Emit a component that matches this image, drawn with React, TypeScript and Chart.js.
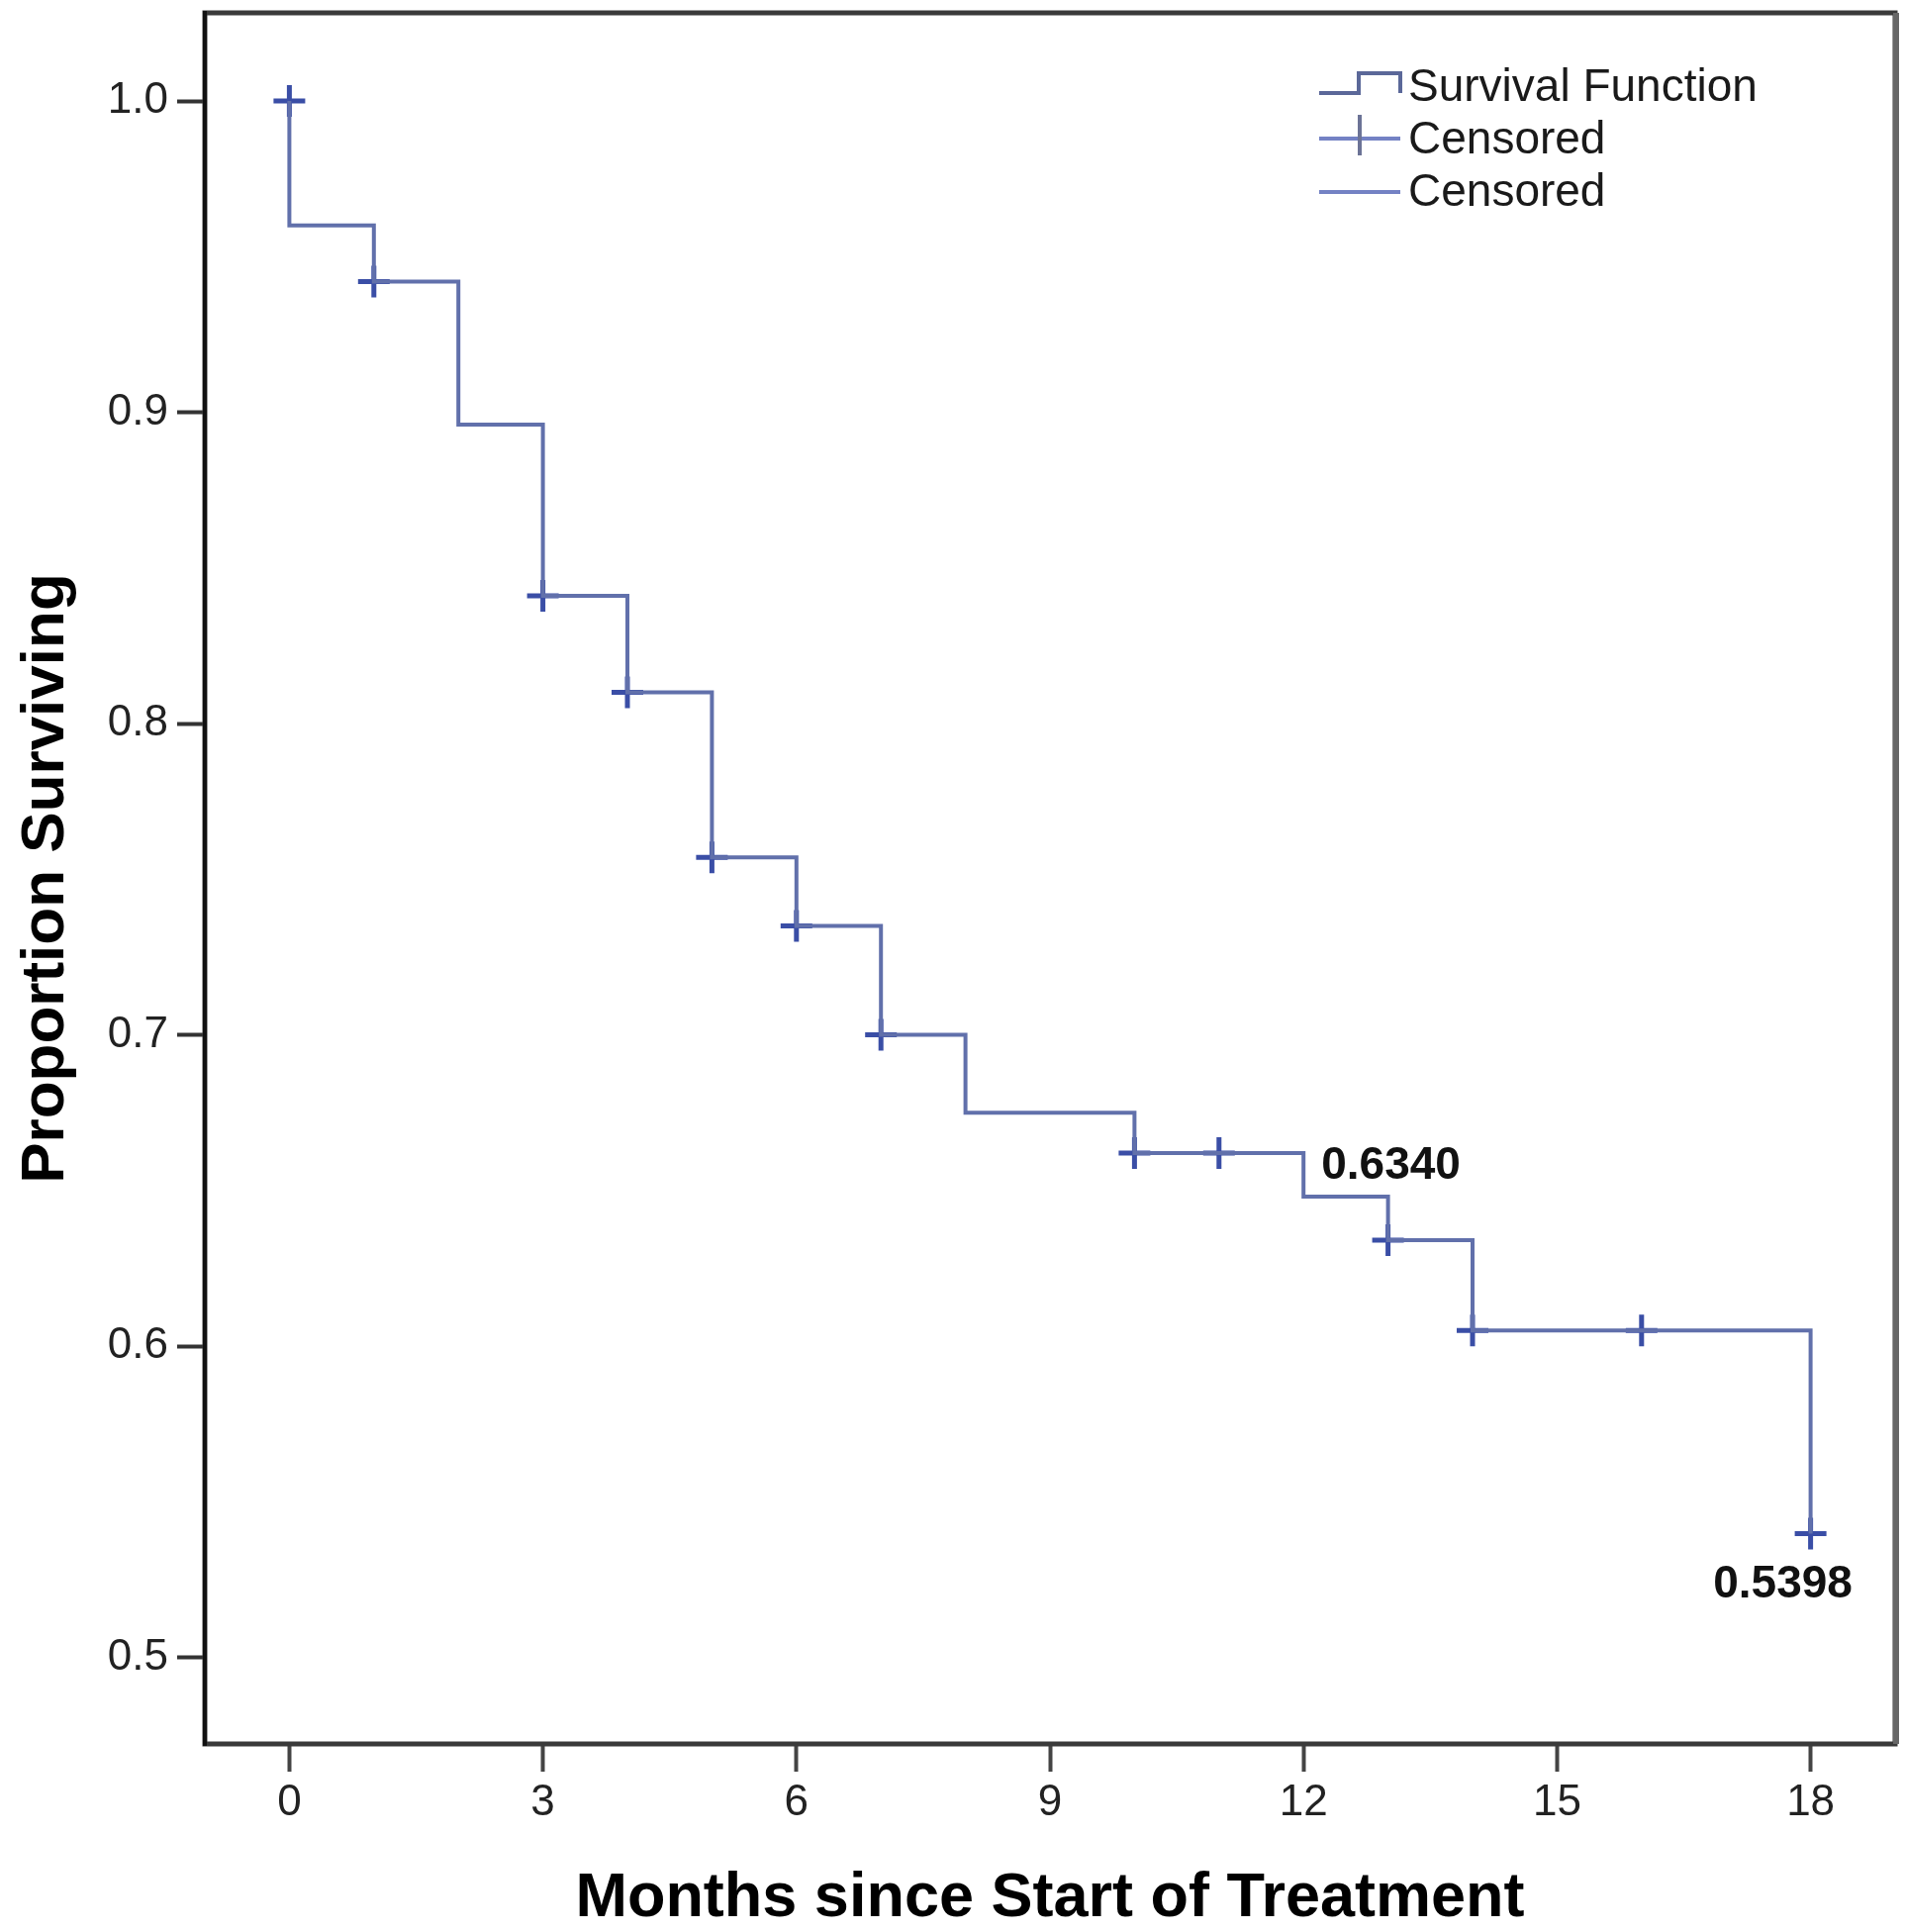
import React, { useEffect, useRef } from 'react';
import { Chart, registerables } from 'chart.js';

Chart.register(...registerables);

// ---- data ----
const stepTimes = [0, 0, 1, 2, 3, 4, 5, 6, 7, 8, 10, 12, 13, 14, 18];
const stepSurvival = [1.0, 0.96, 0.942, 0.896, 0.841, 0.81, 0.757, 0.735, 0.7, 0.675, 0.662, 0.648, 0.634, 0.605, 0.5398];
const censorTimes = [0, 1, 3, 4, 5, 6, 7, 10, 11, 13, 14, 16, 18];
const censorSurvival = [1.0, 0.942, 0.841, 0.81, 0.757, 0.735, 0.7, 0.662, 0.662, 0.634, 0.605, 0.605, 0.5398];
const xTickValues = [0, 3, 6, 9, 12, 15, 18];
const yTickValues = [0.5, 0.6, 0.7, 0.8, 0.9, 1.0];
const legendLabels = ['Survival Function', 'Censored', 'Censored'];
const noteTimes = [13, 18];
const noteValues = [0.634, 0.5398];
const noteTexts = ['0.6340', '0.5398'];
const xTitle = 'Months since Start of Treatment';
const yTitle = 'Proportion Surviving';

const W = 1925;
const H = 1952;
const FONT = '"Liberation Sans", Arial, Helvetica, sans-serif';
const LINE_COLOR = '#6170ab';
const CROSS_COLOR = '#3a4ea6';

const framePlugin = {
  id: 'frame',
  afterDraw(chart: any) {
    const { ctx, chartArea: a } = chart;
    ctx.save();
    ctx.strokeStyle = '#3a3a3a';
    ctx.lineWidth = 5;
    ctx.strokeRect(a.left, a.top, a.right - a.left, a.bottom - a.top);
    ctx.strokeStyle = '#666';
    ctx.lineWidth = 6;
    ctx.beginPath();
    ctx.moveTo(a.right + 1, a.top);
    ctx.lineTo(a.right + 1, a.bottom);
    ctx.stroke();
    ctx.strokeStyle = '#111';
    ctx.lineWidth = 4;
    ctx.beginPath();
    ctx.moveTo(a.left, a.top - 2);
    ctx.lineTo(a.left, a.bottom + 2);
    ctx.stroke();
    ctx.restore();
  },
};

const legendPlugin = {
  id: 'kmLegend',
  afterDraw(chart: any) {
    const { ctx, chartArea: a } = chart;
    const labels = chart.data.datasets.map((d: any) => d.label);
    const x0 = a.right - 582;
    const x1 = a.right - 500;
    const xm = a.right - 541;
    const rowY = [a.top + 76, a.top + 129, a.top + 182];
    ctx.save();
    ctx.lineCap = 'butt';
    // step icon
    ctx.strokeStyle = '#5b6899';
    ctx.lineWidth = 4;
    ctx.beginPath();
    ctx.moveTo(x0, rowY[0] + 5);
    ctx.lineTo(x0 + 40, rowY[0] + 5);
    ctx.lineTo(x0 + 40, rowY[0] - 15);
    ctx.lineTo(x1, rowY[0] - 15);
    ctx.lineTo(x1, rowY[0] + 5);
    ctx.stroke();
    // cross icon
    ctx.strokeStyle = '#7482c4';
    ctx.beginPath();
    ctx.moveTo(x0, rowY[1] - 2);
    ctx.lineTo(x1, rowY[1] - 2);
    ctx.stroke();
    ctx.strokeStyle = '#6c7396';
    ctx.beginPath();
    ctx.moveTo(xm, rowY[1] - 26);
    ctx.lineTo(xm, rowY[1] + 15);
    ctx.stroke();
    // line icon
    ctx.strokeStyle = '#7482c4';
    ctx.beginPath();
    ctx.moveTo(x0, rowY[2] - 1);
    ctx.lineTo(x1, rowY[2] - 1);
    ctx.stroke();
    // texts
    ctx.fillStyle = '#1a1a1a';
    ctx.font = `46px ${FONT}`;
    ctx.textAlign = 'left';
    ctx.textBaseline = 'middle';
    labels.forEach((t: string, i: number) => ctx.fillText(t, x1 + 8, rowY[i]));
    ctx.restore();
  },
};

const notePlugin = {
  id: 'notes',
  afterDraw(chart: any) {
    const { ctx, scales } = chart;
    const offsets = [
      { dx: 3, dy: -75 },
      { dx: -28, dy: 52 },
    ];
    ctx.save();
    ctx.fillStyle = '#111';
    ctx.font = `bold 46px ${FONT}`;
    ctx.textAlign = 'center';
    ctx.textBaseline = 'middle';
    noteTexts.forEach((t, i) => {
      const px = scales.x.getPixelForValue(noteTimes[i]) + offsets[i].dx;
      const py = scales.y.getPixelForValue(noteValues[i]) + offsets[i].dy;
      ctx.fillText(t, px, py);
    });
    ctx.restore();
  },
};

export default function App() {
  const ref = useRef<HTMLCanvasElement | null>(null);

  useEffect(() => {
    if (!ref.current) return;
    const chart = new Chart(ref.current, {
      type: 'line',
      data: {
        datasets: [
          {
            label: legendLabels[0],
            data: stepTimes.map((t, i) => ({ x: t, y: stepSurvival[i] })),
            stepped: true,
            borderColor: LINE_COLOR,
            borderWidth: 4,
            pointRadius: 0,
            fill: false,
          } as any,
          {
            label: legendLabels[1],
            data: censorTimes.map((t, i) => ({ x: t, y: censorSurvival[i] })),
            showLine: false,
            pointStyle: 'cross',
            pointRadius: 16,
            pointBorderColor: CROSS_COLOR,
            pointBorderWidth: 5,
            pointBackgroundColor: CROSS_COLOR,
          } as any,
          {
            label: legendLabels[2],
            data: [],
            borderColor: LINE_COLOR,
          } as any,
        ],
      },
      options: {
        animation: false,
        responsive: false,
        maintainAspectRatio: false,
        layout: { autoPadding: false, padding: { top: 13, right: 10, bottom: 0, left: 0 } },
        plugins: {
          legend: { display: false },
          tooltip: { enabled: false },
        },
        scales: {
          x: {
            type: 'linear',
            min: -1,
            max: 19,
            afterBuildTicks: (s: any) => {
              s.ticks = xTickValues.map((v) => ({ value: v }));
            },
            afterFit: (s: any) => {
              s.height = 190;
              s.paddingLeft = 0;
              s.paddingRight = 0;
            },
            grid: {
              drawOnChartArea: false,
              drawTicks: true,
              tickLength: 28,
              tickWidth: 4,
              tickColor: '#444',
            },
            border: { display: false },
            ticks: {
              padding: 5,
              color: '#222',
              maxRotation: 0,
              autoSkip: false,
              font: { family: FONT, size: 44 },
              callback: (v: any) => String(v),
            },
            title: {
              display: true,
              text: xTitle,
              color: '#000',
              font: { family: FONT, size: 63, weight: 'bold', lineHeight: 1 },
              padding: { top: 0, bottom: 2 },
            },
          },
          y: {
            type: 'linear',
            min: 0.4722,
            max: 1.0283,
            afterBuildTicks: (s: any) => {
              s.ticks = yTickValues.map((v) => ({ value: v }));
            },
            afterFit: (s: any) => {
              s.width = 207;
              s.paddingTop = 0;
              s.paddingBottom = 0;
            },
            grid: {
              drawOnChartArea: false,
              drawTicks: true,
              tickLength: 28,
              tickWidth: 4,
              tickColor: '#333',
            },
            border: { display: false },
            ticks: {
              padding: 9,
              color: '#222',
              autoSkip: false,
              font: { family: FONT, size: 44 },
              callback: (v: any) => Number(v).toFixed(1),
            },
            title: {
              display: true,
              text: yTitle,
              color: '#000',
              font: { family: FONT, size: 62, weight: 'bold' },
              padding: { top: 10, bottom: 0 },
            },
          },
        },
      } as any,
      plugins: [framePlugin, legendPlugin, notePlugin],
    });
    return () => chart.destroy();
  }, []);

  return (
    <div style={{ position: 'fixed', left: 0, top: 0, width: W, height: H, background: '#fff' }}>
      <canvas ref={ref} width={W} height={H} style={{ width: W, height: H, display: 'block' }} />
    </div>
  );
}
